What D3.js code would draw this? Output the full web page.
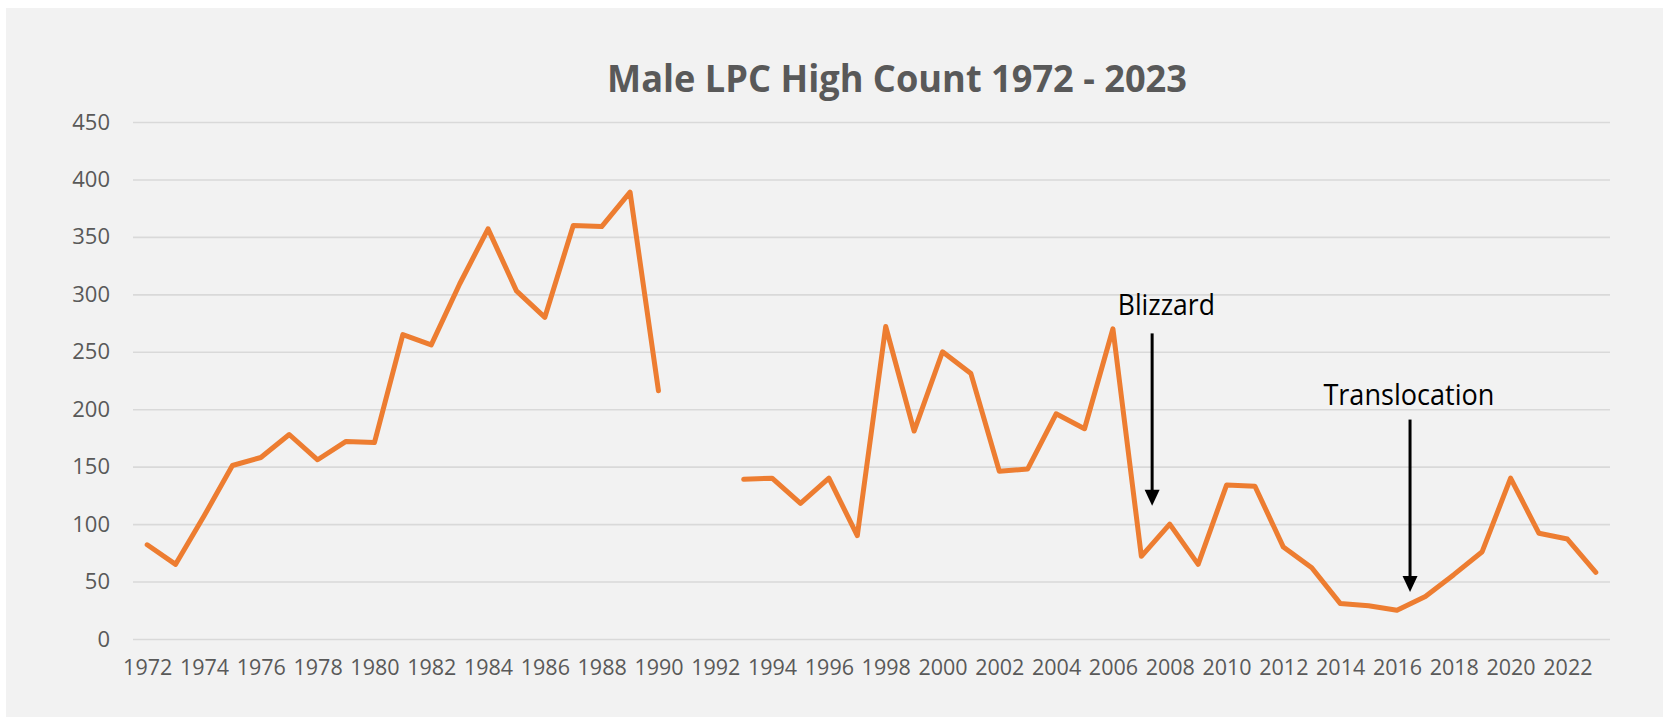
<!DOCTYPE html>
<html>
<head>
<meta charset="utf-8">
<script src="https://cdn.jsdelivr.net/npm/d3@7"></script>
<style>
  html, body { margin: 0; padding: 0; background: #ffffff; }
  svg { display: block; }
</style>
</head>
<body>
<svg id="chart" width="1665" height="717"></svg>
<script>
// ---- data ----
const years = d3.range(1972, 2024);
const counts = [
  82, 65, 107, 151, 158, 178, 156, 172, 171, 265,
  256, 309, 357, 303, 280, 360, 359, 389, 216, null,
  null, 139, 140, 118, 140, 90, 272, 181, 250, 231,
  146, 148, 196, 183, 270, 72, 100, 65, 134, 133,
  80, 62, 31, 29, 25, 37, 56, 76, 140, 92,
  87, 58
];
const yTicks = [0, 50, 100, 150, 200, 250, 300, 350, 400, 450];
const xTickLabels = years.filter(y => (y - 1972) % 2 === 0);
const titleText = "Male LPC High Count 1972 - 2023";
const annotationLabels = ["Blizzard", "Translocation"];
const annotationYears = [2007.38, 2016.46];
const annotationTextYears = [2007.88, 2016.42];
const annotationTextValues = [282, 204];
const annotationArrowTop = [266, 191];
const annotationArrowTip = [116, 41];

// ---- layout ----
const W = 1665, H = 717;
const plot = { left: 133, right: 1610, top: 122, bottom: 639 };

const svg = d3.select("#chart");

svg.append("rect")
  .attr("x", 6).attr("y", 8)
  .attr("width", 1657).attr("height", H - 8)
  .attr("fill", "#f2f2f2");

const x = d3.scalePoint()
  .domain(years)
  .range([plot.left, plot.right])
  .padding(0.5);

const xLin = d3.scaleLinear()
  .domain([years[0], years[years.length - 1]])
  .range([x(years[0]), x(years[years.length - 1])]);

const y = d3.scaleLinear()
  .domain([0, 450])
  .range([plot.bottom, plot.top]);

// gridlines + y labels via axis
const yAxis = d3.axisLeft(y)
  .tickValues(yTicks)
  .tickSize(-(plot.right - plot.left))
  .tickPadding(23);

const gy = svg.append("g")
  .attr("transform", `translate(${plot.left},0)`)
  .call(yAxis);
gy.select(".domain").remove();
gy.selectAll(".tick line")
  .attr("stroke", "#d9d9d9")
  .attr("stroke-width", 1.6);
gy.selectAll(".tick text")
  .attr("fill", "#595959")
  .attr("font-family", "'Open Sans', sans-serif")
  .attr("font-size", 22);

// x axis labels
const xAxis = d3.axisBottom(x)
  .tickValues(xTickLabels)
  .tickSize(0)
  .tickPadding(21);
const gx = svg.append("g")
  .attr("transform", `translate(0,${plot.bottom})`)
  .call(xAxis);
gx.select(".domain").remove();
gx.selectAll(".tick text")
  .attr("fill", "#595959")
  .attr("font-family", "'Open Sans', sans-serif")
  .attr("font-size", 21.5);

// line
const data = years.map((yr, i) => ({ year: yr, value: counts[i] }));
const line = d3.line()
  .defined(d => d.value != null)
  .x(d => x(d.year))
  .y(d => y(d.value));

svg.append("path")
  .datum(data)
  .attr("d", line)
  .attr("fill", "none")
  .attr("stroke", "#ed7d31")
  .attr("stroke-width", 5)
  .attr("stroke-linejoin", "round")
  .attr("stroke-linecap", "round");

// title
svg.append("text")
  .attr("x", (607 + 1187) / 2)
  .attr("y", 92)
  .attr("text-anchor", "middle")
  .attr("font-family", "'Open Sans', sans-serif")
  .attr("font-weight", "bold")
  .attr("font-size", 38)
  .attr("fill", "#595959")
  .attr("textLength", 580)
  .attr("lengthAdjust", "spacingAndGlyphs")
  .text(titleText);

// annotations
const ann = annotationLabels.map((label, i) => ({
  label,
  xYear: annotationYears[i],
  tYear: annotationTextYears[i],
  tVal: annotationTextValues[i],
  top: annotationArrowTop[i],
  tip: annotationArrowTip[i]
}));
const annWidths = [97, 171];

const ga = svg.append("g");
ann.forEach((a, i) => {
  ga.append("text")
    .attr("x", xLin(a.tYear))
    .attr("y", y(a.tVal))
    .attr("text-anchor", "middle")
    .attr("font-family", "'Open Sans', sans-serif")
    .attr("font-size", 29)
    .attr("fill", "#000000")
    .attr("textLength", annWidths[i])
    .attr("lengthAdjust", "spacingAndGlyphs")
    .text(a.label);
  const ax = xLin(a.xYear);
  const yTop = y(a.top), yTip = y(a.tip);
  ga.append("line")
    .attr("x1", ax).attr("x2", ax)
    .attr("y1", yTop).attr("y2", yTip - 12)
    .attr("stroke", "#000").attr("stroke-width", 3);
  ga.append("path")
    .attr("d", `M${ax - 7.5},${yTip - 16} L${ax + 7.5},${yTip - 16} L${ax},${yTip} Z`)
    .attr("fill", "#000");
});
</script>
</body>
</html>
